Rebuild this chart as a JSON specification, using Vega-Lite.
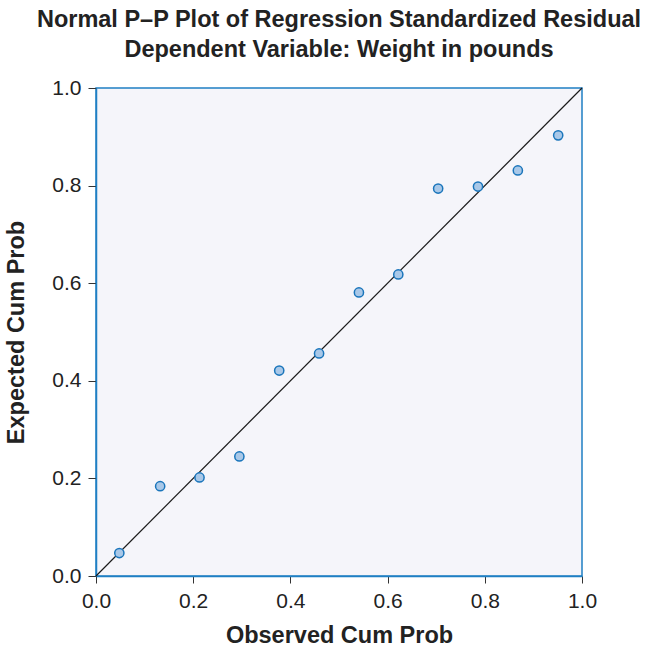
{
  "$schema": "https://vega.github.io/schema/vega-lite/v6.json",
  "autosize": {"type": "none"},
  "width": 486,
  "height": 488,
  "padding": {"left": 96, "top": 88, "right": 68, "bottom": 74},
  "background": "white",
  "config": {
    "font": "Liberation Sans",
    "view": {"fill": "#f5f5fa", "stroke": "#1f7fc4", "strokeWidth": 1.5}
  },
  "title": {
    "text": ["Normal P–P Plot of Regression Standardized Residual", "Dependent Variable: Weight in pounds"],
    "fontSize": 23.5,
    "fontWeight": "bold",
    "color": "#222222",
    "anchor": "middle",
    "lineHeight": 30,
    "offset": 16
  },
  "data": {
    "values": [
      {"observed": 0.048, "expected": 0.047},
      {"observed": 0.132, "expected": 0.184},
      {"observed": 0.213, "expected": 0.202},
      {"observed": 0.295, "expected": 0.245},
      {"observed": 0.377, "expected": 0.421},
      {"observed": 0.459, "expected": 0.456},
      {"observed": 0.541, "expected": 0.581},
      {"observed": 0.622, "expected": 0.618},
      {"observed": 0.704, "expected": 0.794},
      {"observed": 0.786, "expected": 0.798},
      {"observed": 0.868, "expected": 0.831},
      {"observed": 0.951, "expected": 0.903}
    ]
  },
  "layer": [
    {
      "data": {"values": [{"a": 0}, {"a": 1}]},
      "mark": {"type": "line", "color": "#1a1a1a", "strokeWidth": 1.2},
      "encoding": {
        "x": {"field": "a", "type": "quantitative", "scale": {"domain": [0, 1]}},
        "y": {"field": "a", "type": "quantitative", "scale": {"domain": [0, 1]}}
      }
    },
    {
      "mark": {"type": "point", "filled": true, "fill": "#a9c8e8", "stroke": "#1a75bb", "strokeWidth": 1.5, "opacity": 1, "size": 85},
      "encoding": {
        "x": {
          "field": "observed", "type": "quantitative",
          "scale": {"domain": [0, 1], "nice": false},
          "axis": {
            "title": "Observed Cum Prob", "values": [0, 0.2, 0.4, 0.6, 0.8, 1.0], "format": ".1f",
            "grid": false, "domainColor": "#1f7fc4", "domainWidth": 1.5,
            "tickColor": "#333333", "tickSize": 7, "labelPadding": 7,
            "labelFontSize": 21, "labelColor": "#222222", "labelFlush": false,
            "titleFontSize": 23.5, "titleFontWeight": "bold", "titleColor": "#222222", "titlePadding": 12
          }
        },
        "y": {
          "field": "expected", "type": "quantitative",
          "scale": {"domain": [0, 1], "nice": false},
          "axis": {
            "title": "Expected Cum Prob", "values": [0, 0.2, 0.4, 0.6, 0.8, 1.0], "format": ".1f",
            "grid": false, "domainColor": "#1f7fc4", "domainWidth": 1.5,
            "tickColor": "#333333", "tickSize": 8, "labelPadding": 7,
            "labelFontSize": 21, "labelColor": "#222222", "labelFlush": false,
            "titleFontSize": 23.5, "titleFontWeight": "bold", "titleColor": "#222222", "titlePadding": 23
          }
        }
      }
    }
  ]
}
